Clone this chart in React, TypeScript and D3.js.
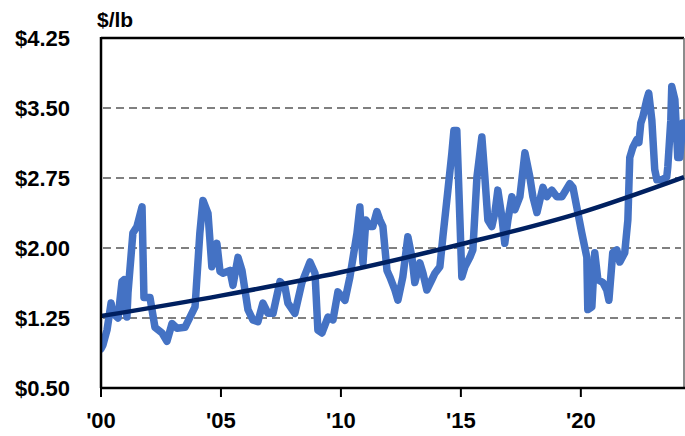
import React from "react";
import * as d3 from "d3";

// Price series (decimal year, $/lb)
const priceDates = [
  2000.0, 2000.08, 2000.25, 2000.42, 2000.5, 2000.71, 2000.875, 2000.96, 2001.08, 2001.125,
  2001.33, 2001.5, 2001.71, 2001.79, 2002.04, 2002.25, 2002.54, 2002.75, 2002.96, 2003.17,
  2003.5, 2003.71, 2003.92, 2004.12, 2004.25, 2004.46, 2004.62, 2004.83, 2004.96, 2005.08,
  2005.375, 2005.5, 2005.71, 2005.875, 2006.125, 2006.33, 2006.54, 2006.75, 2006.96, 2007.17,
  2007.46, 2007.67, 2007.79, 2008.08, 2008.375, 2008.71, 2008.92, 2009.04, 2009.21, 2009.46,
  2009.67, 2009.875, 2010.17, 2010.375, 2010.67, 2010.79, 2010.92, 2011.04, 2011.21, 2011.33,
  2011.5, 2011.625, 2011.75, 2011.92, 2012.04, 2012.25, 2012.375, 2012.58, 2012.79, 2012.96,
  2013.08, 2013.29, 2013.42, 2013.58, 2013.79, 2013.92, 2014.125, 2014.25, 2014.46, 2014.625,
  2014.71, 2014.83, 2014.96, 2015.04, 2015.17, 2015.375, 2015.5, 2015.67, 2015.875, 2016.0,
  2016.125, 2016.29, 2016.42, 2016.54, 2016.71, 2016.83, 2016.96, 2017.125, 2017.25, 2017.46,
  2017.67, 2017.875, 2018.0, 2018.17, 2018.29, 2018.42, 2018.58, 2018.79, 2019.0, 2019.21,
  2019.33, 2019.54, 2019.67, 2019.83, 2020.04, 2020.25, 2020.29, 2020.46, 2020.58, 2020.71,
  2020.92, 2021.08, 2021.17, 2021.33, 2021.5, 2021.625, 2021.83, 2021.96, 2022.04, 2022.17,
  2022.33, 2022.42, 2022.5, 2022.58, 2022.75, 2022.83, 2022.96, 2023.08, 2023.17, 2023.375,
  2023.58, 2023.625, 2023.75, 2023.79, 2023.92, 2024.04, 2024.125, 2024.25, 2024.33,
];
const priceValues = [
  0.92, 0.96, 1.12, 1.41, 1.3, 1.25, 1.64, 1.66, 1.26, 1.52,
  2.16, 2.23, 2.44, 1.47, 1.47, 1.15, 1.09, 1.0, 1.19, 1.14,
  1.15, 1.26, 1.37, 2.16, 2.51, 2.37, 1.8, 2.05, 1.75, 1.73,
  1.76, 1.6, 1.9, 1.76, 1.34, 1.23, 1.21, 1.41, 1.3, 1.3,
  1.64, 1.58, 1.41, 1.3, 1.63, 1.85, 1.73, 1.12, 1.09, 1.26,
  1.23, 1.53, 1.44, 1.69, 2.16, 2.44, 1.84, 2.3, 2.23, 2.23,
  2.39, 2.3, 2.23, 1.76, 1.69, 1.55, 1.44, 1.69, 2.12, 1.9,
  1.63, 1.84, 1.73, 1.55, 1.66, 1.73, 1.8, 2.12, 2.62, 3.02,
  3.26, 3.26, 2.3, 1.69, 1.8, 1.9, 1.98, 2.76, 3.19, 2.76,
  2.3, 2.23, 2.38, 2.62, 2.33, 2.05, 2.3, 2.55, 2.41, 2.55,
  3.02, 2.76, 2.55, 2.38, 2.51, 2.65, 2.55, 2.62, 2.55, 2.55,
  2.6, 2.69, 2.65, 2.44, 2.16, 1.9, 1.34, 1.37, 1.95, 1.66,
  1.63, 1.55, 1.44, 1.95, 1.98, 1.85, 1.95, 2.3, 2.97, 3.08,
  3.16, 3.13, 3.34, 3.4, 3.59, 3.66, 3.37, 2.84, 2.73, 2.73,
  2.76, 2.87, 3.37, 3.73, 3.59, 2.97, 2.97, 3.34, 3.34,
];

// Trend line at a few points
const trendDates = [2000, 2005, 2010, 2015, 2020, 2024.3];
const trendValues = [1.27, 1.49, 1.74, 2.04, 2.38, 2.76];

const yTicks = [0.5, 1.25, 2.0, 2.75, 3.5, 4.25];
const xTicks = [2000, 2005, 2010, 2015, 2020];
const xTickLabels = ["'00", "'05", "'10", "'15", "'20"];

const W = 685;
const H = 436;
const left = 101;
const right = 684;
const top = 38;
const bottom = 388;

const FONT = "'Liberation Sans', Arial, sans-serif";

export default function App() {
  const x = d3.scaleLinear().domain([2000, 2024.3]).range([left, right]);
  const y = d3.scaleLinear().domain([0.5, 4.25]).range([bottom, top]);

  const line = d3
    .line<number>()
    .x((_, i) => x(priceDates[i]))
    .y((d) => y(d));

  const trend = d3
    .line<number>()
    .x((_, i) => x(trendDates[i]))
    .y((d) => y(d))
    .curve(d3.curveMonotoneX);

  return (
    <div style={{ position: "fixed", left: 0, top: 0 }}>
      <svg width={W} height={H} style={{ display: "block", background: "#fff" }}>
        <defs>
          <clipPath id="plot">
            <rect x={left} y={0} width={right - left + 2} height={bottom} />
          </clipPath>
        </defs>

        {/* dashed grid */}
        {yTicks
          .filter((t) => t > 0.5 && t < 4.25)
          .map((t) => (
            <line
              key={t}
              x1={left + 2}
              x2={right - 3}
              y1={y(t)}
              y2={y(t)}
              stroke="#808080"
              strokeWidth={2}
              strokeDasharray="8 5"
            />
          ))}

        {/* frame */}
        <line x1={left} x2={right} y1={top} y2={top} stroke="#000" strokeWidth={2.5} />
        <line x1={right} x2={right} y1={top} y2={bottom} stroke="#666" strokeWidth={1.5} />

        <g clipPath="url(#plot)">
          {/* price */}
          <path
            d={line(priceValues) || ""}
            fill="none"
            stroke="#4472C4"
            strokeWidth={7.5}
            strokeLinejoin="round"
            strokeLinecap="round"
          />
          {/* trend */}
          <path d={trend(trendValues) || ""} fill="none" stroke="#002060" strokeWidth={4.5} />
        </g>

        {/* axes */}
        <line x1={left} x2={left} y1={top - 1} y2={bottom} stroke="#000" strokeWidth={2.5} />
        <line x1={left - 1} x2={right + 1} y1={bottom} y2={bottom} stroke="#000" strokeWidth={2.5} />
        {xTicks.map((t, i) => (
          <g key={t}>
            <line x1={x(t)} x2={x(t)} y1={bottom} y2={bottom + 9} stroke="#000" strokeWidth={2} />
            <text
              x={x(t)}
              y={428}
              textAnchor="middle"
              fontFamily={FONT}
              fontWeight="bold"
              fontSize={22}
              fill="#000"
            >
              {xTickLabels[i]}
            </text>
          </g>
        ))}

        {yTicks.map((t) => (
          <text
            key={t}
            x={70}
            y={y(t)}
            dy="0.36em"
            textAnchor="end"
            fontFamily={FONT}
            fontWeight="bold"
            fontSize={22}
            fill="#000"
          >
            {`$${t.toFixed(2)}`}
          </text>
        ))}

        <text x={97} y={27} fontFamily={FONT} fontWeight="bold" fontSize={21} fill="#000">
          $/lb
        </text>
      </svg>
    </div>
  );
}
